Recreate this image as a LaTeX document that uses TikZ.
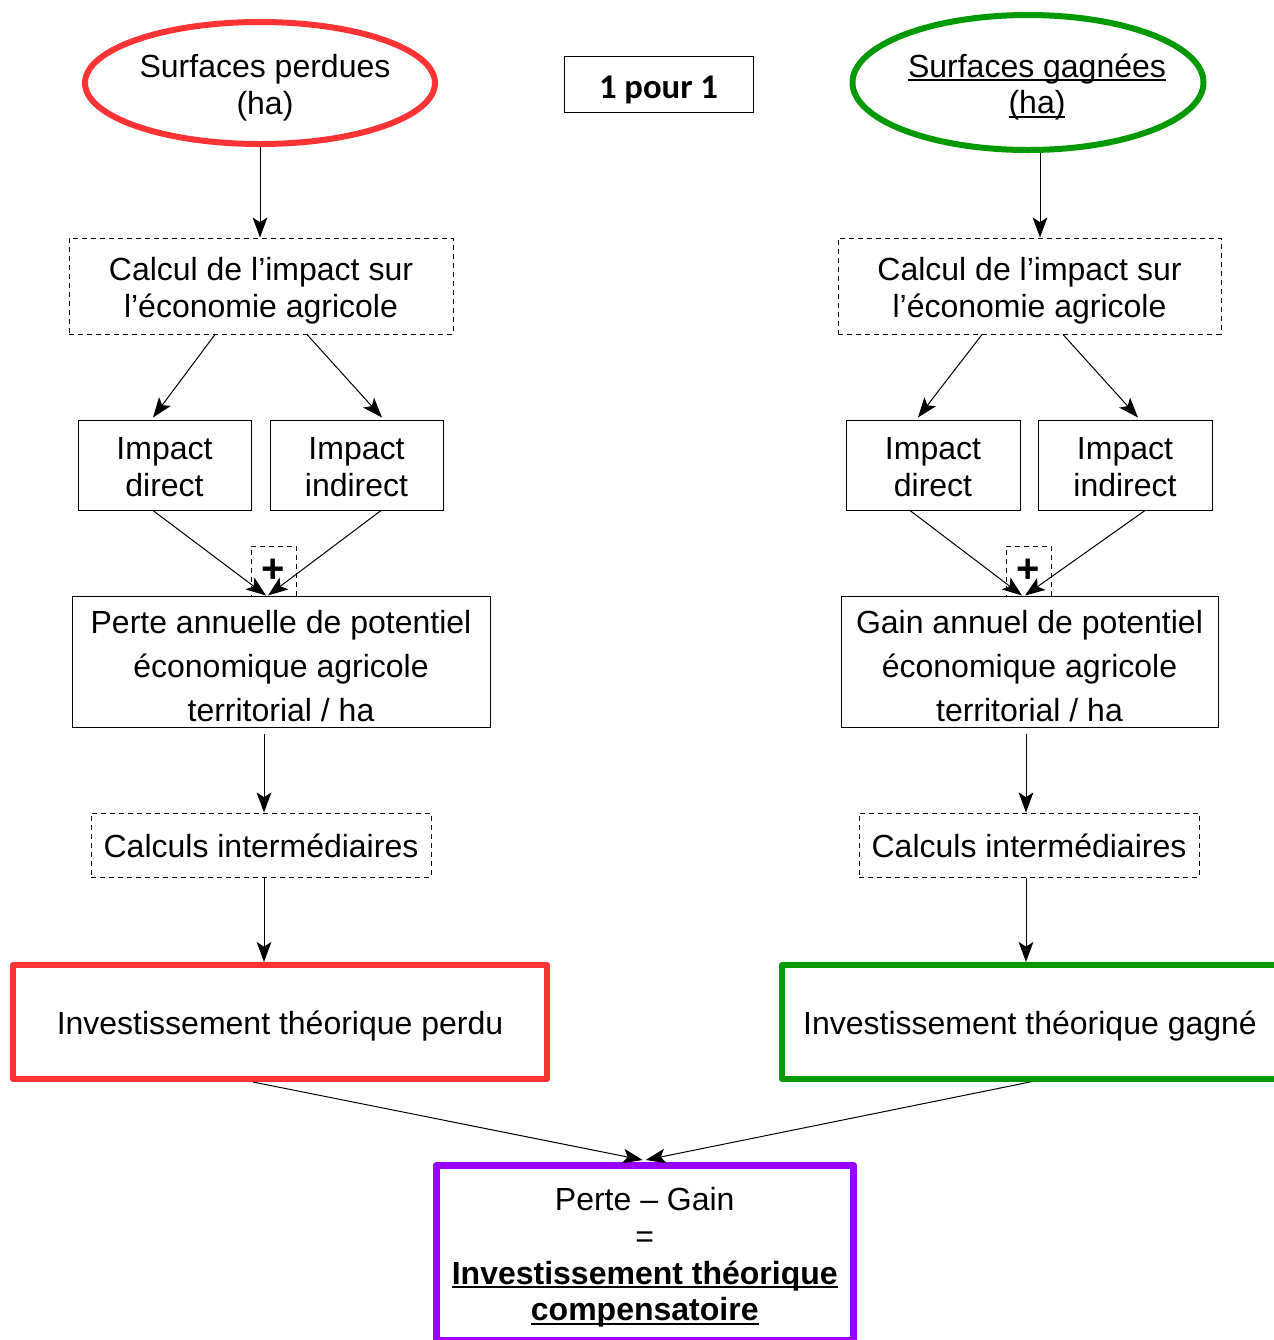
\documentclass[tikz,border=0pt]{standalone}
\usepackage{fontspec}
\setmainfont{Liberation Sans}
\newfontfamily\calib{Carlito}
\usetikzlibrary{shapes.geometric,arrows.meta,calc}
\definecolor{cred}{HTML}{FF3333}
\definecolor{cgreen}{HTML}{009900}
\definecolor{cpurple}{HTML}{9900FF}
\newsavebox\ulbox
\newcommand\myul[1]{\sbox\ulbox{#1}\rlap{\rule[-0.12em]{\wd\ulbox}{0.06em}}\usebox\ulbox}
\newcommand\sttop{\rule{0pt}{1.03em}}
\newcommand\stbot{\rule[-0.22em]{0pt}{0.22em}}
\newcommand\sttopp{\rule{0pt}{28pt}}
\newcommand\stbotp{\rule[-4pt]{0pt}{4pt}}
\begin{document}
\begin{tikzpicture}[x=0.75pt,y=-0.75pt,
  base/.style={font=\fontsize{24}{27.5}\selectfont, align=center, inner sep=0pt},
  thinbox/.style={base, draw, line width=0.75pt, rectangle},
  dashbox/.style={thinbox, dash pattern=on 3.75pt off 3pt},
  thickbox/.style={base, draw, rectangle, line width=4.5pt, line join=round},
  ell/.style={base, ellipse, draw, line width=4.5pt, inner xsep=-15pt},
  plusbox/.style={dashbox, minimum width=45*0.75pt, minimum height=50*0.75pt,
    font=\bfseries\fontsize{30}{30}\selectfont},
  arr/.style={-{Stealth[length=15pt,width=11pt,inset=3.5pt]}, line width=0.75pt},
]
\useasboundingbox (0,0) rectangle (1274,1340);

% top
\node[ell, draw=cred, minimum width=350*0.75pt, minimum height=122*0.75pt] (ellL) at (260,83)
  {\sttop\hspace*{7.5pt}Surfaces perdues\\\hspace*{7.5pt}(ha)\stbot};
\node[ell, draw=cgreen, minimum width=351*0.75pt, minimum height=135*0.75pt] (ellR) at (1028,82.5)
  {\sttop\hspace*{13.5pt}\myul{Surfaces gagnées}\\\hspace*{13.5pt}\myul{(ha)}\stbot};
\node[thinbox, minimum width=189*0.75pt, minimum height=56*0.75pt,
  font=\calib\bfseries\fontsize{26}{30}\selectfont] (pour) at (658.5,84) {\sttop 1 pour 1\stbot};

% left column
\node[dashbox, minimum width=384*0.75pt, minimum height=96*0.75pt] (calcL) at (261,286)
  {\sttop Calcul de l’impact sur\\l’économie agricole\stbot};
\node[thinbox, minimum width=173*0.75pt, minimum height=90*0.75pt] (dirL) at (164.5,465) {\sttop Impact\\direct\stbot};
\node[thinbox, minimum width=173*0.75pt, minimum height=90*0.75pt] (indL) at (356.5,465) {\sttop Impact\\indirect\stbot};
\node[plusbox] (plusL) at (273.5,571) {+};
\node[thinbox, minimum width=418*0.75pt, minimum height=131*0.75pt, font=\fontsize{24}{33}\selectfont] (perteL) at (281,661.5)
  {\sttopp Perte annuelle de potentiel\\économique agricole\\territorial / ha\stbotp};
\node[dashbox, minimum width=340*0.75pt, minimum height=64*0.75pt] (calcIL) at (261,845) {\sttop Calculs intermédiaires\stbot};
\node[thickbox, draw=cred, minimum width=534*0.75pt, minimum height=114*0.75pt] (invL) at (280,1022) {\sttop Investissement théorique perdu\stbot};

% right column
\node[dashbox, minimum width=383*0.75pt, minimum height=96*0.75pt] (calcR) at (1029.5,286)
  {\sttop Calcul de l’impact sur\\l’économie agricole\stbot};
\node[thinbox, minimum width=174*0.75pt, minimum height=90*0.75pt] (dirR) at (933,465) {\sttop Impact\\direct\stbot};
\node[thinbox, minimum width=174*0.75pt, minimum height=90*0.75pt] (indR) at (1125,465) {\sttop Impact\\indirect\stbot};
\node[plusbox] (plusR) at (1028.5,571) {+};
\node[thinbox, minimum width=377*0.75pt, minimum height=131*0.75pt, font=\fontsize{24}{33}\selectfont] (gainR) at (1029.5,661.5)
  {\sttopp Gain annuel de potentiel\\économique agricole\\territorial / ha\stbotp};
\node[dashbox, minimum width=340*0.75pt, minimum height=64*0.75pt] (calcIR) at (1029,845) {\sttop Calculs intermédiaires\stbot};
\node[thickbox, draw=cgreen, minimum width=496*0.75pt, minimum height=114*0.75pt] (invR) at (1030,1022) {\sttop Investissement théorique gagné\stbot};

% result
\node[thickbox, draw=cpurple, line width=5.25pt, minimum width=417.5*0.75pt, minimum height=175*0.75pt] (res) at (644.75,1253)
  {\sttop Perte – Gain\\=\\{\bfseries\myul{Investissement théorique}}\\{\bfseries\myul{compensatoire}}\stbot};

% connectors
\draw[arr] (ellL.south) -- (ellL.south |- calcL.north);
\coordinate (eR) at ($(ellR.south)+(12,0)$);
\draw[arr] (eR) -- (eR |- calcR.north);

\draw[arr] ($(calcL.south)+(-46,0)$) -- ($(dirL.north)+(-11.5,-2)$);
\draw[arr] ($(calcL.south)+(46,0)$) -- ($(indL.north)+(25.5,-2)$);
\draw[arr] ($(calcR.south)+(-47.5,0)$) -- ($(dirR.north)+(-15,-2)$);
\draw[arr] ($(calcR.south)+(33.5,0)$) -- ($(indR.north)+(13,-2)$);

\draw[arr] ($(dirL.south)+(-11.5,0)$) -- ($(perteL.north)+(-15,0)$);
\draw[arr] ($(indL.south)+(24.5,0)$) -- ($(perteL.north)+(-13,0)$);
\draw[arr] ($(dirR.south)+(-23,0)$) -- ($(gainR.north)+(-7.5,0)$);
\draw[arr] ($(indR.south)+(20,0)$) -- ($(gainR.north)+(-4.5,0)$);

\coordinate (pL) at ($(perteL.south)+(-17,0)$);
\draw[arr, shorten <=4.5pt] (pL) -- (pL |- calcIL.north);
\coordinate (gR) at ($(gainR.south)+(-3.5,0)$);
\draw[arr, shorten <=4.5pt] (gR) -- (gR |- calcIR.north);

\coordinate (cL) at ($(calcIL.south)+(3,0)$);
\draw[arr] (cL) -- (cL |- invL.north);
\coordinate (cR) at ($(calcIR.south)+(-3,0)$);
\draw[arr] (cR) -- (cR |- invR.north);

\draw[arr] ($(invL.south)+(-27,0)$) -- ($(res.north)+(-2,-2)$);
\draw[arr] (invR.south) -- ($(res.north)+(1,-2)$);
\end{tikzpicture}
\end{document}
